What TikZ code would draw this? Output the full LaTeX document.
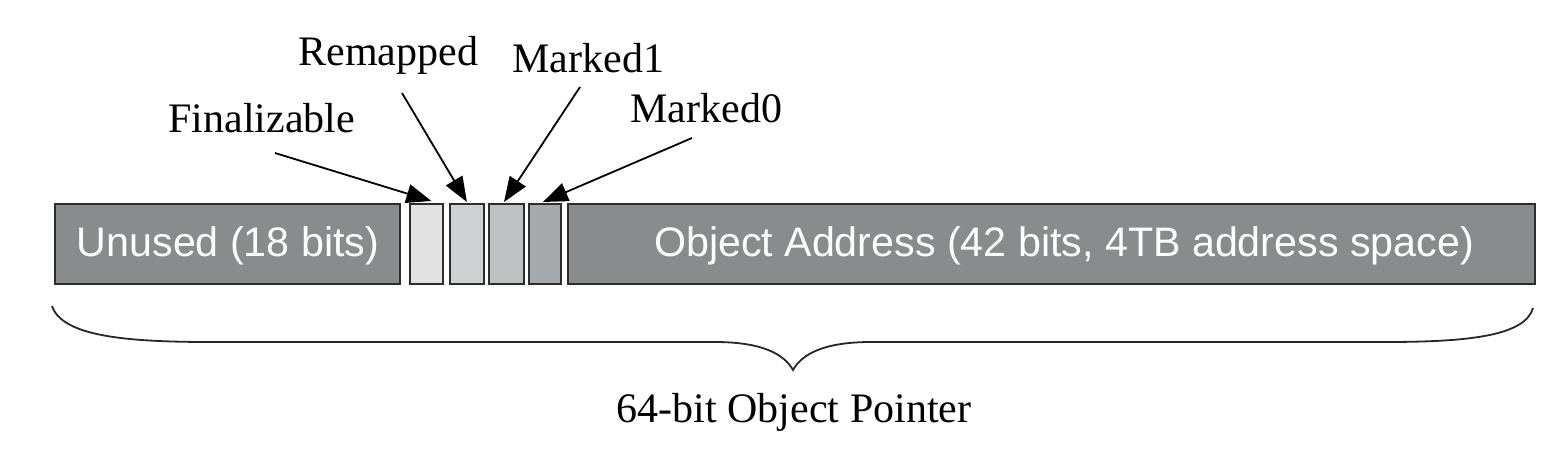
\documentclass[tikz,border=0pt]{standalone}
\usepackage{fontspec}
\setmainfont{Liberation Serif}
\setsansfont{Liberation Sans}
\usetikzlibrary{arrows.meta}
\definecolor{darkfill}{RGB}{138,139,141}
\definecolor{bitA}{RGB}{226,226,226}
\definecolor{bitB}{RGB}{208,209,210}
\definecolor{bitC}{RGB}{190,192,194}
\definecolor{bitD}{RGB}{167,170,172}
\definecolor{edge}{RGB}{45,45,45}
\tikzset{
  field/.style={draw=edge, line width=0.9pt, rectangle, inner sep=0pt, anchor=north west, minimum height=40pt},
  fieldtext/.style={text=white, font=\sffamily\fontsize{20.6}{24}\selectfont, inner sep=0pt},
  lbl/.style={font=\fontsize{21}{25}\selectfont, inner sep=0pt, anchor=base west},
  ptr/.style={line width=0.9pt, -{Triangle[length=12.5pt,width=9.5pt]}},
  brace/.style={line width=0.9pt, draw=black!85}
}
\begin{document}
\begin{tikzpicture}[x=0.5pt,y=-0.5pt]
\useasboundingbox (0,0) rectangle (1562,450);
% fields
\node[field, fill=darkfill, minimum width=172.5pt] (unused) at (54,203) {};
\node[field, fill=bitA, minimum width=16.5pt] (fin) at (409,203) {};
\node[field, fill=bitB, minimum width=17pt] (rem) at (449,203) {};
\node[field, fill=bitC, minimum width=17.5pt] (mk1) at (488,203) {};
\node[field, fill=bitD, minimum width=16pt] (mk0) at (528,203) {};
\node[field, fill=darkfill, minimum width=483.5pt] (addr) at (567,203) {};
\node[fieldtext] (tunused) at (228,246) {Unused (18 bits)};
\node[fieldtext] (taddr) at (1064,246) {Object Address (42 bits, 4TB address space)};
% labels
\node[lbl] (lfin) at (168,132) {Finalizable};
\node[lbl] (lrem) at (298,65) {Remapped};
\node[lbl] (lmk1) at (512,72) {Marked1};
\node[lbl] (lmk0) at (630,122) {Marked0};
% arrow start points
\coordinate (sfin) at (275,153);
\coordinate (srem) at (402,93);
\coordinate (smk1) at (580,87);
\coordinate (smk0) at (692,138);
\draw[ptr] (sfin) -- ([xshift=2.5pt,yshift=1pt]fin.north);
\draw[ptr] (srem) -- ([yshift=0.5pt]rem.north);
\draw[ptr] (smk1) -- ([xshift=-1.2pt,yshift=0.5pt]mk1.north);
\draw[ptr] (smk0) -- ([xshift=-1pt,yshift=0.5pt]mk0.north);
% brace
\coordinate (bl) at (52,306);
\coordinate (br) at (1533,308);
\coordinate (btip) at (793,370);
\draw[brace] (bl) .. controls (62,336) and (125,342) .. (210,342) -- (715,342)
  .. controls (762,342) and (784,354) .. (btip)
  .. controls (802,354) and (824,342) .. (871,342) -- (1385,342)
  .. controls (1468,342) and (1525,336) .. (br);
\node[font=\fontsize{21}{25}\selectfont, inner sep=0pt, anchor=base] (ptrlbl) at (794,422) {64-bit Object Pointer};
\end{tikzpicture}
\end{document}
